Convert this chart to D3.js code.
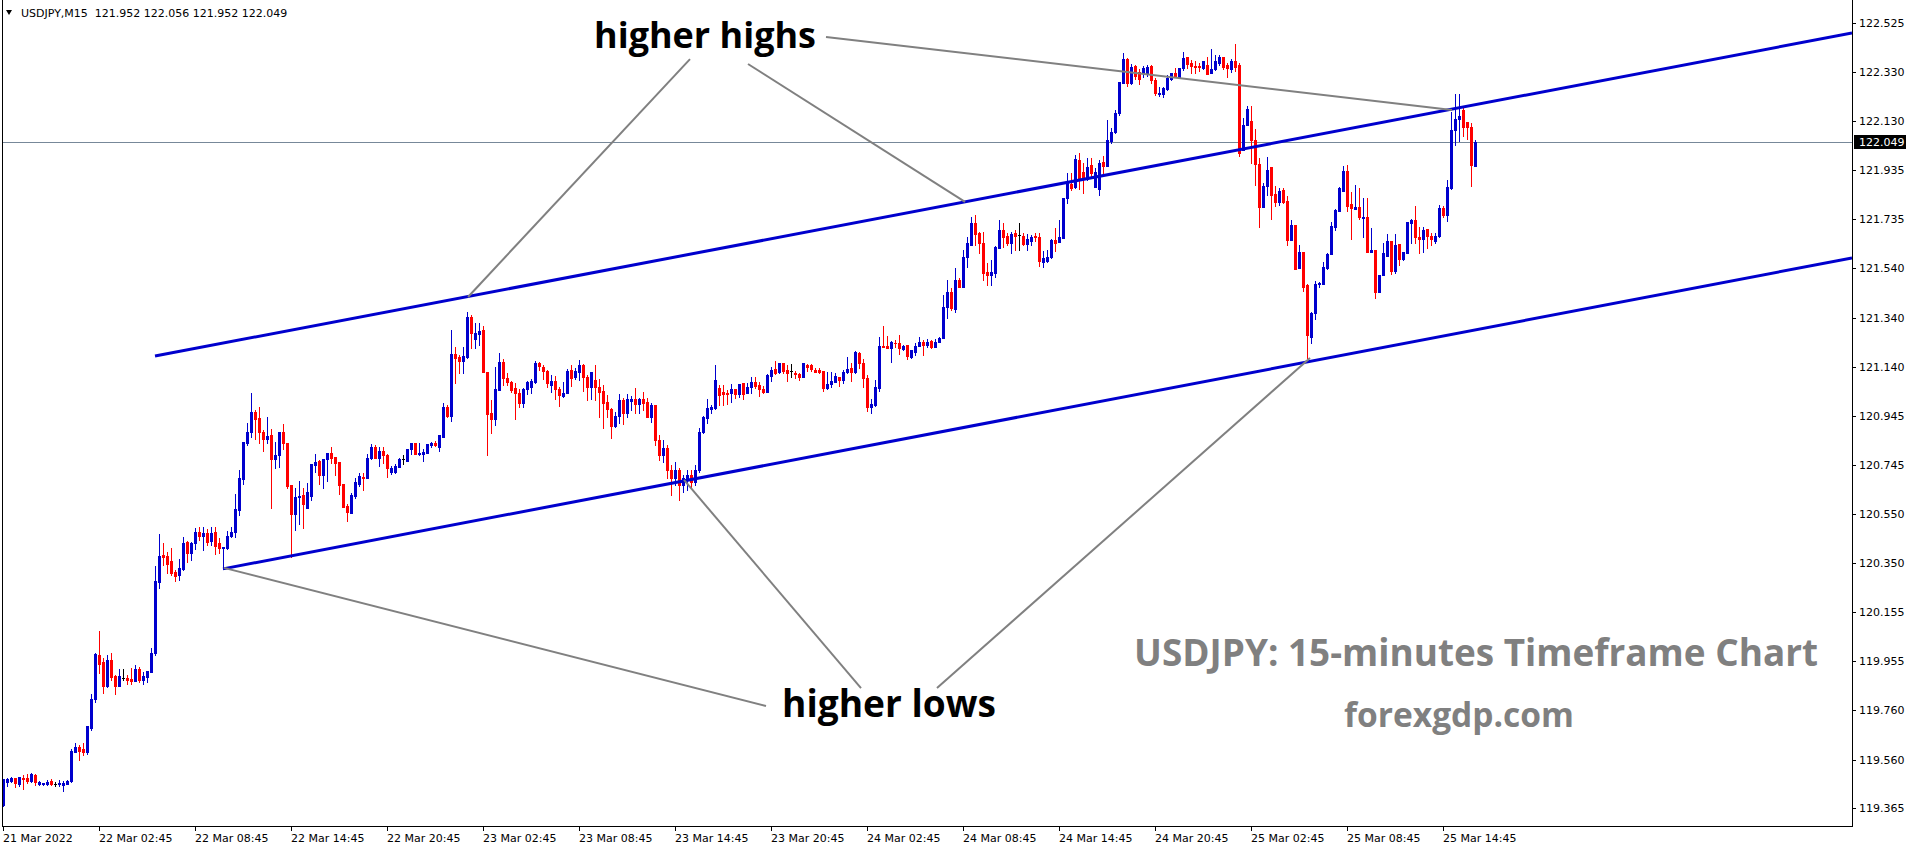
<!DOCTYPE html>
<html><head><meta charset="utf-8">
<script src="https://cdn.jsdelivr.net/npm/d3@7"></script>
<style>html,body{margin:0;padding:0;background:#fff;overflow:hidden}</style>
</head><body><svg id="c" width="1916" height="850"></svg>
<script>
// ---------------- data ----------------
const symbol = "USDJPY,M15";
const headerValues = ["121.952", "122.056", "121.952", "122.049"];
const firstBarTime = "2022-03-21T20:45";
const barMinutes = 15;
const timeTickLabels = ["21 Mar 2022","22 Mar 02:45","22 Mar 08:45","22 Mar 14:45","22 Mar 20:45","23 Mar 02:45","23 Mar 08:45","23 Mar 14:45","23 Mar 20:45","24 Mar 02:45","24 Mar 08:45","24 Mar 14:45","24 Mar 20:45","25 Mar 02:45","25 Mar 08:45","25 Mar 14:45"];
const timeTickTimes = ["2022-03-21T20:45","2022-03-22T02:45","2022-03-22T08:45","2022-03-22T14:45","2022-03-22T20:45","2022-03-23T02:45","2022-03-23T08:45","2022-03-23T14:45","2022-03-23T20:45","2022-03-24T02:45","2022-03-24T08:45","2022-03-24T14:45","2022-03-24T20:45","2022-03-25T02:45","2022-03-25T08:45","2022-03-25T14:45"];
const priceTicks = [122.525,122.330,122.130,121.935,121.735,121.540,121.340,121.140,120.945,120.745,120.550,120.350,120.155,119.955,119.760,119.560,119.365];
const currentPrice = 122.049;
// [open, high, low, close] per 15-minute bar
const ohlc = [
[119.377,119.482,119.373,119.482],[119.470,119.486,119.454,119.482],[119.474,119.490,119.470,119.486],[119.486,119.486,119.450,119.466],
[119.462,119.490,119.454,119.490],[119.486,119.498,119.442,119.482],[119.486,119.502,119.466,119.474],[119.474,119.506,119.470,119.502],
[119.498,119.502,119.458,119.470],[119.462,119.474,119.458,119.470],[119.462,119.466,119.458,119.466],[119.462,119.478,119.458,119.470],
[119.474,119.482,119.458,119.462],[119.462,119.470,119.454,119.462],[119.462,119.478,119.454,119.466],[119.458,119.474,119.434,119.466],
[119.462,119.478,119.462,119.474],[119.474,119.603,119.470,119.595],[119.591,119.627,119.591,119.611],[119.611,119.619,119.559,119.595],
[119.603,119.627,119.579,119.591],[119.591,119.695,119.583,119.695],[119.688,119.824,119.679,119.804],[119.804,119.989,119.792,119.985],
[119.981,120.078,119.909,119.945],[119.953,119.969,119.828,119.857],[119.857,119.981,119.853,119.961],[119.961,119.989,119.881,119.893],
[119.897,119.901,119.824,119.857],[119.857,119.925,119.857,119.897],[119.889,119.925,119.881,119.889],[119.889,119.901,119.865,119.881],
[119.885,119.929,119.865,119.877],[119.877,119.941,119.877,119.925],[119.925,119.933,119.873,119.881],[119.881,119.913,119.865,119.897],
[119.893,119.917,119.873,119.917],[119.913,120.009,119.913,119.989],[119.989,120.340,119.981,120.279],[120.275,120.469,120.251,120.380],
[120.384,120.432,120.344,120.376],[120.380,120.396,120.312,120.348],[120.360,120.412,120.304,120.312],[120.316,120.324,120.279,120.300],
[120.304,120.368,120.283,120.332],[120.328,120.457,120.324,120.432],[120.436,120.440,120.356,120.392],[120.392,120.436,120.364,120.432],
[120.432,120.493,120.408,120.477],[120.477,120.497,120.444,120.461],[120.461,120.497,120.404,120.473],[120.473,120.489,120.424,120.436],
[120.440,120.497,120.424,120.473],[120.477,120.497,120.388,120.420],[120.432,120.453,120.392,120.412],[120.412,120.416,120.328,120.416],
[120.412,120.481,120.408,120.461],[120.461,120.497,120.457,120.477],[120.477,120.630,120.457,120.569],[120.565,120.726,120.545,120.694],
[120.690,120.839,120.670,120.839],[120.835,120.916,120.827,120.879],[120.879,121.036,120.859,120.960],[120.960,120.968,120.851,120.932],
[120.936,120.980,120.835,120.879],[120.879,120.887,120.803,120.851],[120.851,120.940,120.835,120.863],[120.867,120.891,120.573,120.771],
[120.771,120.839,120.734,120.787],[120.787,120.879,120.738,120.879],[120.879,120.912,120.811,120.835],[120.835,120.835,120.654,120.662],
[120.666,120.666,120.376,120.549],[120.549,120.654,120.485,120.618],[120.618,120.682,120.509,120.622],[120.626,120.654,120.493,120.589],
[120.573,120.674,120.573,120.638],[120.622,120.751,120.606,120.751],[120.747,120.791,120.718,120.759],[120.763,120.767,120.670,120.706],
[120.706,120.771,120.654,120.771],[120.771,120.795,120.682,120.795],[120.795,120.819,120.755,120.775],[120.779,120.779,120.706,120.755],
[120.759,120.759,120.630,120.666],[120.670,120.670,120.577,120.577],[120.581,120.589,120.521,120.557],[120.553,120.634,120.553,120.626],
[120.622,120.694,120.614,120.678],[120.670,120.714,120.662,120.702],[120.698,120.714,120.646,120.694],[120.694,120.791,120.694,120.775],
[120.775,120.831,120.771,120.819],[120.819,120.827,120.775,120.775],[120.775,120.819,120.742,120.803],[120.803,120.819,120.755,120.787],
[120.787,120.791,120.698,120.734],[120.718,120.742,120.710,120.734],[120.718,120.751,120.714,120.742],[120.738,120.775,120.738,120.771],
[120.771,120.787,120.751,120.771],[120.763,120.811,120.763,120.811],[120.811,120.835,120.791,120.835],[120.835,120.835,120.791,120.791],
[120.791,120.835,120.787,120.795],[120.791,120.811,120.763,120.799],[120.795,120.831,120.795,120.831],[120.827,120.839,120.819,120.835],
[120.835,120.843,120.823,120.827],[120.819,120.867,120.803,120.867],[120.859,120.996,120.859,120.980],[120.980,120.988,120.940,120.944],
[120.944,121.290,120.924,121.194],[121.194,121.222,121.077,121.177],[121.181,121.189,121.117,121.165],[121.165,121.222,121.117,121.185],
[121.181,121.363,121.177,121.343],[121.343,121.351,121.218,121.278],[121.254,121.318,121.218,121.278],[121.274,121.318,121.230,121.286],
[121.290,121.306,121.121,121.121],[121.121,121.121,120.787,120.952],[120.956,121.008,120.875,120.932],[120.932,121.141,120.908,121.053],
[121.049,121.197,121.049,121.161],[121.161,121.173,121.069,121.097],[121.097,121.117,121.069,121.081],[121.081,121.085,121.041,121.049],
[121.057,121.077,120.932,121.036],[121.036,121.053,120.980,120.996],[120.996,121.057,120.980,121.053],[121.053,121.085,121.032,121.081],
[121.061,121.093,121.036,121.085],[121.081,121.165,121.077,121.157],[121.157,121.161,121.129,121.145],[121.141,121.149,121.093,121.125],
[121.125,121.129,121.061,121.077],[121.069,121.109,121.041,121.085],[121.085,121.105,121.012,121.053],[121.053,121.061,120.984,121.028],
[121.024,121.081,121.020,121.036],[121.036,121.133,121.036,121.125],[121.129,121.149,121.065,121.097],[121.101,121.137,121.093,121.125],
[121.121,121.169,121.089,121.149],[121.149,121.153,121.045,121.101],[121.101,121.109,121.008,121.061],[121.061,121.121,121.012,121.121],
[121.089,121.149,121.008,121.061],[121.061,121.093,120.940,121.040],[121.045,121.069,120.896,120.996],[121.000,121.028,120.940,120.972],
[120.972,120.976,120.855,120.904],[120.904,120.960,120.899,120.944],[120.944,121.032,120.916,121.008],[121.008,121.016,120.912,120.956],
[120.956,121.032,120.940,121.012],[121.004,121.024,120.968,121.012],[121.012,121.057,120.956,120.992],[120.992,121.016,120.956,121.012],
[121.012,121.040,120.968,120.996],[121.000,121.016,120.940,120.940],[120.940,120.996,120.920,120.988],[120.988,120.988,120.827,120.847],
[120.847,120.867,120.767,120.787],[120.787,120.847,120.759,120.815],[120.815,120.827,120.694,120.726],[120.726,120.746,120.626,120.694],
[120.694,120.759,120.666,120.726],[120.726,120.734,120.606,120.666],[120.666,120.706,120.638,120.694],[120.694,120.726,120.646,120.706],
[120.706,120.726,120.654,120.678],[120.678,120.746,120.666,120.726],[120.726,120.895,120.718,120.879],[120.879,120.944,120.875,120.940],
[120.936,121.012,120.916,120.976],[120.972,120.988,120.956,120.980],[120.976,121.149,120.972,121.089],[121.057,121.069,120.988,121.028],
[121.040,121.069,120.988,121.032],[121.036,121.049,120.992,121.032],[121.036,121.073,121.000,121.053],[121.053,121.053,121.016,121.032],
[121.032,121.073,121.020,121.073],[121.077,121.077,121.012,121.032],[121.036,121.077,121.036,121.061],[121.061,121.101,121.036,121.081],
[121.081,121.101,121.057,121.065],[121.069,121.081,121.024,121.053],[121.053,121.065,121.036,121.040],[121.040,121.113,121.040,121.109],
[121.105,121.141,121.085,121.129],[121.133,121.165,121.113,121.117],[121.121,121.157,121.117,121.157],[121.157,121.157,121.117,121.125],
[121.129,121.149,121.085,121.117],[121.125,121.153,121.101,121.125],[121.117,121.125,121.097,121.113],[121.113,121.117,121.089,121.101],
[121.101,121.157,121.101,121.157],[121.149,121.153,121.125,121.141],[121.149,121.153,121.125,121.133],[121.129,121.137,121.121,121.121],
[121.129,121.137,121.117,121.121],[121.125,121.125,121.045,121.057],[121.057,121.121,121.053,121.073],[121.073,121.121,121.061,121.085],
[121.081,121.117,121.081,121.105],[121.101,121.101,121.065,121.089],[121.089,121.129,121.077,121.121],[121.121,121.181,121.117,121.133],
[121.137,121.157,121.085,121.121],[121.121,121.206,121.117,121.202],[121.198,121.202,121.137,121.157],[121.157,121.173,121.061,121.097],
[121.097,121.109,120.964,120.980],[120.980,121.012,120.956,120.992],[120.988,121.089,120.984,121.061],[121.057,121.262,121.045,121.226],
[121.226,121.306,121.222,121.222],[121.226,121.266,121.218,121.218],[121.218,121.246,121.161,121.242],[121.238,121.250,121.222,121.236],
[121.238,121.270,121.194,121.218],[121.214,121.230,121.210,121.226],[121.230,121.230,121.173,121.185],[121.181,121.210,121.177,121.210],
[121.202,121.238,121.189,121.226],[121.226,121.262,121.226,121.242],[121.242,121.250,121.189,121.230],[121.230,121.254,121.222,121.242],
[121.246,121.250,121.218,121.222],[121.222,121.254,121.222,121.242],[121.242,121.262,121.242,121.258],[121.258,121.431,121.258,121.383],
[121.383,121.491,121.339,121.443],[121.443,121.459,121.371,121.379],[121.375,121.540,121.363,121.491],[121.491,121.500,121.463,121.463],
[121.463,121.612,121.463,121.584],[121.584,121.665,121.544,121.640],[121.632,121.745,121.632,121.721],[121.721,121.753,121.632,121.677],
[121.681,121.685,121.600,121.640],[121.640,121.685,121.491,121.520],[121.524,121.560,121.471,121.512],[121.512,121.572,121.471,121.524],
[121.520,121.628,121.504,121.624],[121.620,121.733,121.620,121.693],[121.693,121.721,121.624,121.665],[121.669,121.681,121.632,121.640],
[121.640,121.685,121.600,121.677],[121.681,121.693,121.612,121.669],[121.673,121.721,121.612,121.673],[121.669,121.681,121.632,121.636],
[121.636,121.677,121.612,121.657],[121.649,121.673,121.632,121.665],[121.669,121.681,121.649,121.665],[121.665,121.681,121.548,121.568],
[121.564,121.608,121.544,121.580],[121.568,121.612,121.564,121.584],[121.584,121.657,121.580,121.653],[121.653,121.701,121.608,121.640],
[121.644,121.733,121.644,121.665],[121.661,121.822,121.661,121.822],[121.822,121.922,121.801,121.882],[121.878,121.922,121.854,121.862],
[121.866,121.995,121.862,121.979],[121.975,122.003,121.858,121.902],[121.926,121.963,121.842,121.898],[121.898,121.983,121.894,121.947],
[121.955,121.983,121.906,121.922],[121.866,121.942,121.866,121.926],[121.858,121.975,121.834,121.963],[121.967,121.991,121.914,121.951],
[121.951,122.136,121.951,122.055],[122.051,122.104,122.043,122.087],[122.087,122.176,122.083,122.164],[122.164,122.289,122.156,122.289],
[122.285,122.405,122.285,122.381],[122.381,122.385,122.273,122.285],[122.285,122.361,122.281,122.349],[122.353,122.357,122.301,122.313],
[122.329,122.341,122.281,122.301],[122.325,122.353,122.309,122.345],[122.325,122.357,122.313,122.349],[122.353,122.357,122.285,122.297],
[122.297,122.305,122.236,122.244],[122.240,122.269,122.232,122.244],[122.240,122.269,122.228,122.265],[122.261,122.317,122.257,122.305],
[122.301,122.325,122.297,122.325],[122.325,122.345,122.309,122.309],[122.309,122.345,122.305,122.345],[122.345,122.410,122.337,122.385],
[122.389,122.389,122.345,122.361],[122.365,122.377,122.325,122.353],[122.353,122.373,122.325,122.349],[122.353,122.365,122.333,122.349],
[122.345,122.373,122.341,122.373],[122.357,122.389,122.321,122.321],[122.325,122.422,122.325,122.341],[122.341,122.397,122.337,122.373],
[122.365,122.397,122.357,122.389],[122.389,122.389,122.341,122.349],[122.357,122.365,122.309,122.345],[122.341,122.381,122.329,122.373],
[122.373,122.442,122.333,122.349],[122.357,122.365,121.991,122.003],[122.015,122.144,122.015,122.116],[122.116,122.192,122.116,122.180],
[122.132,122.192,121.963,122.055],[122.055,122.099,121.874,121.959],[121.959,121.983,121.705,121.785],[121.785,121.882,121.785,121.870],
[121.870,121.987,121.834,121.934],[121.947,121.947,121.737,121.834],[121.838,121.870,121.789,121.806],[121.806,121.862,121.793,121.850],
[121.854,121.862,121.801,121.806],[121.810,121.830,121.632,121.653],[121.653,121.733,121.653,121.713],[121.713,121.713,121.536,121.536],
[121.540,121.632,121.540,121.604],[121.604,121.604,121.447,121.463],[121.471,121.475,121.177,121.270],[121.262,121.363,121.238,121.359],
[121.359,121.487,121.335,121.475],[121.475,121.483,121.463,121.479],[121.475,121.564,121.475,121.544],[121.540,121.600,121.536,121.596],
[121.596,121.725,121.596,121.709],[121.705,121.777,121.693,121.773],[121.769,121.866,121.769,121.862],[121.850,121.951,121.850,121.930],
[121.930,121.955,121.769,121.789],[121.797,121.846,121.657,121.781],[121.777,121.874,121.777,121.785],[121.785,121.862,121.737,121.745],
[121.741,121.822,121.665,121.745],[121.745,121.822,121.604,121.604],[121.604,121.701,121.604,121.612],[121.612,121.612,121.419,121.443],
[121.443,121.512,121.443,121.512],[121.512,121.640,121.512,121.600],[121.588,121.677,121.588,121.649],[121.649,121.649,121.516,121.528],
[121.528,121.677,121.520,121.632],[121.636,121.636,121.552,121.576],[121.576,121.604,121.572,121.604],[121.600,121.725,121.600,121.725],
[121.721,121.737,121.640,121.733],[121.733,121.789,121.640,121.665],[121.665,121.705,121.600,121.657],[121.657,121.705,121.604,121.693],
[121.697,121.697,121.620,121.669],[121.669,121.681,121.632,121.657],[121.649,121.681,121.640,121.669],[121.669,121.793,121.665,121.781],
[121.781,121.789,121.745,121.753],[121.753,121.894,121.729,121.866],[121.862,122.168,121.858,122.095],[122.095,122.240,122.035,122.140],
[122.140,122.240,122.051,122.152],[122.176,122.192,122.071,122.108],[122.128,122.128,122.059,122.108],[122.108,122.124,121.870,121.955],
[121.952,122.056,121.952,122.049]
];
// trend channel and annotation lines as [barIndex, price] endpoints
const channelUpper = [[38, 121.185], [462.25, 122.486]];
const channelLower = [[55, 120.328], [462.25, 121.580]];
const highsLines = [
  [[171.75, 122.381], [116.25, 121.423]],
  [[186.25, 122.361], [240.5, 121.806]],
  [[205.75, 122.470], [362.25, 122.176]]
];
const lowsLines = [
  [[190.75, 119.776], [55.25, 120.332]],
  [[214.5, 119.848], [170.25, 120.686]],
  [[233.5, 119.848], [326.75, 121.177]]
];
const labelHighs = "higher highs";
const labelLows = "higher lows";
const titleText = "USDJPY: 15-minutes Timeframe Chart";
const siteText = "forexgdp.com";

// ---------------- layout ----------------
const W = 1916, H = 850;
const plotL = 2, plotR = 1852, plotB = 826;
const svg = d3.select("#c");
const axisFont = "DejaVu Sans, Verdana, sans-serif";

const x = d3.scaleLinear().domain([0, ohlc.length - 1]).range([3, 3 + 4 * (ohlc.length - 1)]);
const y = d3.scaleLinear().domain([119.365, 122.525]).range([808, 23.3]);
const t0 = new Date(firstBarTime).getTime();
const barOf = s => (new Date(s).getTime() - t0) / (barMinutes * 60000);

const plot = svg.append("g");
svg.append("defs").append("clipPath").attr("id", "pc")
  .append("rect").attr("x", plotL).attr("y", 0).attr("width", plotR - plotL).attr("height", plotB);

// current price line
plot.append("line").attr("x1", plotL).attr("x2", plotR)
  .attr("y1", Math.round(y(currentPrice)) + 0.5).attr("y2", Math.round(y(currentPrice)) + 0.5)
  .attr("stroke", "#778899").attr("stroke-width", 1);

// candles
const cg = plot.append("g").attr("shape-rendering", "crispEdges");
ohlc.forEach((d, i) => {
  const [o, h, l, c] = d;
  const X = Math.round(x(i));
  const col = c > o ? "#0000cd" : (c < o ? "#ff0000" : "#000000");
  const yh = Math.round(y(h)), yl = Math.round(y(l));
  cg.append("rect").attr("x", X).attr("y", yh).attr("width", 1).attr("height", Math.max(1, yl - yh + 1)).attr("fill", col);
  const yt = Math.round(y(Math.max(o, c))), yb = Math.round(y(Math.min(o, c)));
  cg.append("rect").attr("x", X - 1).attr("y", yt).attr("width", 3).attr("height", Math.max(1, yb - yt + 1)).attr("fill", col);
});

const line = d3.line().x(d => x(d[0])).y(d => y(d[1]));
const lg = plot.append("g").attr("clip-path", "url(#pc)");
[channelUpper, channelLower].forEach(p => lg.append("path").attr("d", line(p))
  .attr("stroke", "#0000cd").attr("stroke-width", 3).attr("fill", "none"));
highsLines.concat(lowsLines).forEach(p => lg.append("path").attr("d", line(p))
  .attr("stroke", "#808080").attr("stroke-width", 2).attr("fill", "none"));

// frame
const fr = svg.append("g").attr("shape-rendering", "crispEdges").attr("stroke", "#000").attr("stroke-width", 1);
fr.append("line").attr("x1", plotL + 0.5).attr("x2", plotL + 0.5).attr("y1", 0).attr("y2", plotB + 0.5);
fr.append("line").attr("x1", plotR + 0.5).attr("x2", plotR + 0.5).attr("y1", 0).attr("y2", plotB + 0.5);
fr.append("line").attr("x1", plotL).attr("x2", plotR + 1).attr("y1", plotB + 0.5).attr("y2", plotB + 0.5);

// price axis
const pa = svg.append("g");
priceTicks.forEach(v => {
  const yy = Math.round(y(v));
  pa.append("line").attr("x1", plotR + 1).attr("x2", plotR + 4).attr("y1", yy + 0.5).attr("y2", yy + 0.5)
    .attr("stroke", "#000").attr("shape-rendering", "crispEdges");
  pa.append("text").attr("x", plotR + 7).attr("y", yy + 4).attr("font-family", axisFont)
    .attr("font-size", 11).attr("fill", "#000").text(v.toFixed(3));
});
const cy = Math.round(y(currentPrice));
pa.append("rect").attr("x", plotR + 2).attr("y", cy - 7).attr("width", 52).attr("height", 14).attr("fill", "#000");
pa.append("text").attr("x", plotR + 7).attr("y", cy + 4).attr("font-family", axisFont)
  .attr("font-size", 11).attr("fill", "#fff").text(currentPrice.toFixed(3));

// time axis
const ta = svg.append("g");
timeTickTimes.forEach((s, k) => {
  const X = Math.round(x(barOf(s)));
  ta.append("line").attr("x1", X + 0.5).attr("x2", X + 0.5).attr("y1", plotB + 1).attr("y2", plotB + 5)
    .attr("stroke", "#000").attr("shape-rendering", "crispEdges");
  ta.append("text").attr("x", X).attr("y", plotB + 16).attr("font-family", axisFont)
    .attr("font-size", 11).attr("fill", "#000").text(timeTickLabels[k]);
});

// header
svg.append("path").attr("d", "M6,10 L12,10 L9,15 Z").attr("fill", "#000");
svg.append("text").attr("x", 21).attr("y", 17).attr("font-family", axisFont).attr("font-size", 11)
  .attr("fill", "#000").style("white-space", "pre")
  .text(symbol + "  " + headerValues.join(" "));

// annotation texts, sized to fit measured widths
function fitText(txt, cx, base, width, fill) {
  const t = svg.append("text").attr("x", cx).attr("y", base).attr("text-anchor", "middle")
    .attr("font-family", "Open Sans, sans-serif").attr("font-weight", 700)
    .attr("font-size", 100).attr("fill", fill).text(txt);
  const w = t.node().getComputedTextLength();
  t.attr("font-size", 100 * width / w);
  return t;
}
fitText(labelHighs, 705, 48, 222, "#000");
fitText(labelLows, 889, 717, 214, "#000");
fitText(titleText, 1476, 666, 684, "#808080");
fitText(siteText, 1459, 727, 230, "#808080");
</script></body></html>
